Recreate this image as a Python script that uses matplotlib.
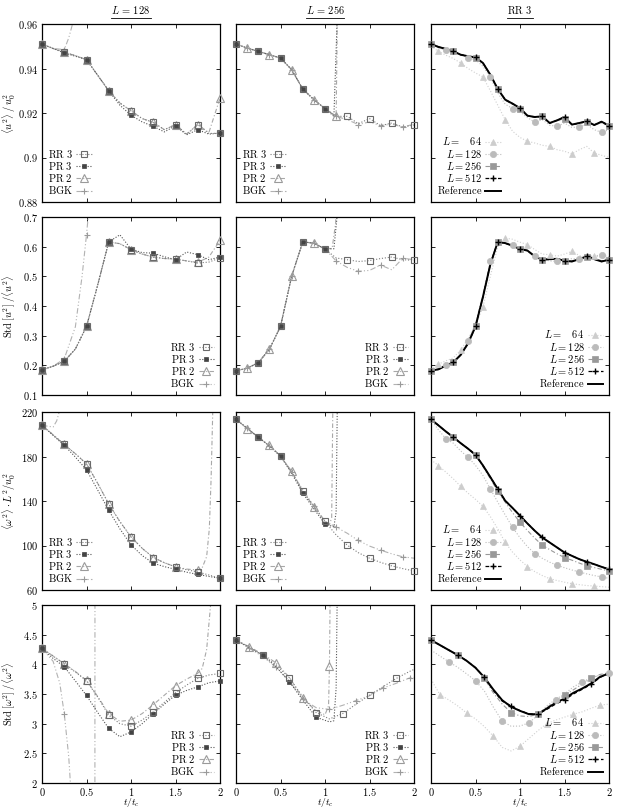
import numpy as np
import matplotlib
matplotlib.use('Agg')
import matplotlib.pyplot as plt
from matplotlib.lines import Line2D
from matplotlib.ticker import FuncFormatter

plt.rcParams['mathtext.fontset'] = 'cm'
plt.rcParams['font.family'] = ['DejaVu Serif']

# ---------------------------------------------------------------- data
col_titles = [r'$L\,=\,128$', r'$L\,=\,256$', r'$\mathrm{RR\ 3}$']
row_ylabels = [r'$\langle u^2\rangle\,/\,u_0^2$',
               r'$\mathrm{Std}\,[u^2]\;/\langle u^2\rangle$',
               r'$\langle\omega^2\rangle\cdot L^2/u_0^2$',
               r'$\mathrm{Std}\,[\omega^2]\;/\langle\omega^2\rangle$']
x_label = r'$t/t_c$'
x_ticks = [0, 0.5, 1, 1.5, 2]
y_ticks = [[0.88, 0.9, 0.92, 0.94, 0.96],
           [0.1, 0.2, 0.3, 0.4, 0.5, 0.6, 0.7],
           [60, 100, 140, 180, 220],
           [2, 2.5, 3, 3.5, 4, 4.5, 5]]
scheme_names = ['RR 3', 'PR 3', 'PR 2', 'BGK']
scheme_labels = [r'$\mathrm{RR\ 3}$', r'$\mathrm{PR\ 3}$', r'$\mathrm{PR\ 2}$', r'$\mathrm{BGK}$']
res_names = ['L64', 'L128', 'L256', 'L512', 'Reference']
res_labels = [r'$L =\ \ \ 64$', r'$L = 128$', r'$L = 256$', r'$L = 512$', r'$\mathrm{Reference}$']

# time grids
t8 = [0, 0.125, 0.25, 0.375, 0.5, 0.625, 0.75, 0.875, 1.0, 1.125, 1.25,
      1.375, 1.5, 1.625, 1.75, 1.875, 2.0]
t15 = [0, 0.15, 0.3, 0.45, 0.6, 0.75, 0.9, 1.05, 1.2, 1.35, 1.5, 1.65, 1.8, 1.95, 2.0]
t12 = list(np.linspace(0, 2, 25))
t10 = list(np.linspace(0, 2, 21))

# ---- column 1 : L = 128
u2_rr3_128 = [0.951, 0.949, 0.9473, 0.9458, 0.944, 0.937, 0.930, 0.9245, 0.921, 0.9175, 0.9158,
              0.9125, 0.9148, 0.9105, 0.9148, 0.9108, 0.9109]
u2_pr3_128 = [0.951, 0.949, 0.947, 0.9455, 0.944, 0.937, 0.930, 0.9235, 0.919, 0.916, 0.914,
              0.9115, 0.9143, 0.9102, 0.9125, 0.9105, 0.911]
u2_pr2_128 = [0.951, 0.949, 0.9473, 0.9458, 0.944, 0.937, 0.930, 0.9245, 0.921, 0.9175, 0.9158,
              0.9125, 0.9148, 0.9105, 0.9148, 0.9112, 0.9267]
t_u2_bgk_128 = [0, 0.125, 0.25, 0.3, 0.35, 0.4]
u2_bgk_128 = [0.951, 0.949, 0.9485, 0.9537, 0.961, 0.98]

s_rr3_128 = [0.185, 0.197, 0.2135, 0.255, 0.331, 0.47, 0.616, 0.61, 0.590, 0.575, 0.565,
             0.56, 0.558, 0.552, 0.545, 0.548, 0.562]
s_pr3_128 = [0.185, 0.197, 0.2135, 0.255, 0.331, 0.47, 0.616, 0.640, 0.592, 0.58, 0.578,
             0.566, 0.556, 0.582, 0.573, 0.556, 0.565]
s_pr2_128 = [0.185, 0.197, 0.2135, 0.255, 0.331, 0.47, 0.616, 0.61, 0.590, 0.575, 0.565,
             0.56, 0.558, 0.552, 0.547, 0.565, 0.621]
t_s_bgk_128 = [0, 0.125, 0.25, 0.375, 0.45, 0.5, 0.55, 0.6]
s_bgk_128 = [0.185, 0.197, 0.222, 0.33, 0.5, 0.64, 0.8, 0.95]

w_rr3_128 = [208, 199.5, 190.8, 182.5, 173.4, 156, 137.3, 121.5, 107.8, 97.5, 89.2,
             84.5, 80.8, 78.2, 76.2, 73.5, 70.5]
w_pr3_128 = [208, 199, 190, 179.5, 168, 150, 131.6, 115, 100.6, 91, 84.1,
             81, 78.6, 76, 74, 72.2, 70.5]
t_w_pr2_128 = t8[:15] + [1.8, 1.85, 1.88, 1.9, 1.92, 1.95]
w_pr2_128 = [208, 199.5, 190.8, 182.5, 173.4, 156, 137.3, 121.5, 107.8, 97.5, 89.2,
             84.5, 80.8, 78.8, 78.0, 80, 90, 115, 160, 225, 300]
t_w_bgk_128 = [0, 0.125, 0.165, 0.2, 0.25]
w_bgk_128 = [208, 206.5, 212, 222, 250]

sw_rr3_128 = [4.268, 4.14, 4.004, 3.87, 3.723, 3.45, 3.143, 3.0, 2.957, 3.06, 3.199,
              3.36, 3.52, 3.65, 3.762, 3.82, 3.846]
sw_pr3_128 = [4.268, 4.1, 3.96, 3.72, 3.475, 3.19, 2.92, 2.78, 2.86, 3.0, 3.17,
              3.33, 3.48, 3.56, 3.62, 3.69, 3.72]
t_sw_pr2_128 = t8[:15] + [1.8, 1.85, 1.9, 1.95]
sw_pr2_128 = [4.268, 4.14, 4.01, 3.88, 3.73, 3.46, 3.17, 3.04, 3.06, 3.17, 3.32,
              3.48, 3.64, 3.75, 3.85, 3.93, 4.25, 5.1, 7.0]
t_sw_bgk_128 = [0, 0.125, 0.2, 0.25, 0.3, 0.34, 0.45, 0.59, 0.6, 0.7]
sw_bgk_128 = [4.268, 4.05, 3.68, 3.17, 2.45, 1.5, -20, -20, 30, 30]

# ---- column 2 : L = 256
u2_rr3_256 = [0.951, 0.9492, 0.9477, 0.9462, 0.9447, 0.9395, 0.9308, 0.926, 0.922, 0.9185, 0.9185,
              0.9152, 0.9175, 0.9143, 0.9155, 0.9137, 0.9146]
t_u2_pr3_256 = t8[:9] + [1.1, 1.135, 1.16]
u2_pr3_256 = [0.951, 0.9492, 0.9477, 0.9462, 0.9447, 0.9395, 0.9308, 0.926, 0.922, 0.9185, 0.96, 1.1]
t_u2_pr2_256 = t8[:9] + [1.125, 1.135, 1.15]
u2_pr2_256 = [0.951, 0.9492, 0.9477, 0.9462, 0.9447, 0.9395, 0.9308, 0.926, 0.922, 0.9185, 0.95, 1.1]
u2_bgk_256 = [0.951, 0.9492, 0.9477, 0.9462, 0.9447, 0.9395, 0.9308, 0.926, 0.922, 0.9185, 0.917,
              0.9148, 0.916, 0.9143, 0.915, 0.9137, 0.915]

s_rr3_256 = [0.182, 0.19, 0.209, 0.254, 0.331, 0.5, 0.616, 0.612, 0.592, 0.562, 0.556,
             0.55, 0.553, 0.56, 0.565, 0.556, 0.554]
t_s_pr3_256 = t8[:9] + [1.1, 1.135, 1.16]
s_pr3_256 = [0.182, 0.19, 0.209, 0.254, 0.331, 0.5, 0.616, 0.612, 0.592, 0.593, 0.7, 1.0]
t_s_pr2_256 = t8[:9] + [1.08, 1.12, 1.14]
s_pr2_256 = [0.182, 0.19, 0.209, 0.254, 0.331, 0.5, 0.616, 0.612, 0.592, 0.594, 0.68, 1.0]
s_bgk_256 = [0.182, 0.19, 0.209, 0.254, 0.331, 0.5, 0.616, 0.612, 0.592, 0.552, 0.53,
             0.517, 0.52, 0.538, 0.522, 0.561, 0.556]

w_rr3_256 = [213.4, 205.5, 197.4, 189.5, 180.3, 166, 148.7, 135, 121.6, 109.5, 100.3,
             93.5, 88.6, 84.8, 81.7, 79.2, 77.1]
t_w_pr3_256 = t8[:9] + [1.1, 1.125, 1.14]
w_pr3_256 = [213.4, 205.5, 197.4, 189.5, 180.3, 165, 147, 133, 119.2, 116.8, 130, 240]
t_w_pr2_256 = t8[:9] + [1.05, 1.075, 1.09]
w_pr2_256 = [213.4, 205, 197.4, 190, 180.3, 166.8, 148.7, 134.9, 121.6, 118.5, 125, 240]
w_bgk_256 = [213.4, 205.5, 197.4, 189.5, 181.5, 166, 150, 135.5, 122, 116.5, 111,
             104.5, 99.5, 95.8, 92.5, 89.8, 88.6]

sw_rr3_256 = [4.409, 4.29, 4.155, 3.99, 3.773, 3.45, 3.188, 3.08, 3.171, 3.33, 3.48,
              3.62, 3.762, 3.88, 3.914]
t_sw_pr3_256 = [0, 0.15, 0.3, 0.45, 0.6, 0.75, 0.9, 1.05, 1.1, 1.125, 1.14]
sw_pr3_256 = [4.409, 4.28, 4.155, 3.96, 3.706, 3.4, 3.109, 3.03, 3.05, 3.6, 5.5]
t_sw_pr2_256 = [0, 0.15, 0.3, 0.45, 0.6, 0.75, 0.9, 1.0, 1.04, 1.05, 1.06]
sw_pr2_256 = [4.409, 4.296, 4.17, 4.026, 3.78, 3.425, 3.22, 3.15, 3.3, 3.97, 5.5]
sw_bgk_256 = [4.409, 4.27, 4.13, 3.95, 3.72, 3.41, 3.27, 3.24, 3.31, 3.39, 3.47,
              3.6, 3.68, 3.77, 3.78]

# ---- column 3 : RR 3, several resolutions
u2_ref = [0.9510, 0.9497, 0.9488, 0.9477, 0.9462, 0.9455, 0.9450, 0.9425, 0.9372, 0.9308, 0.9260,
          0.9242, 0.9222, 0.9188, 0.9182, 0.9185, 0.9155, 0.9167, 0.9182, 0.9148, 0.9155,
          0.9163, 0.9146, 0.9161, 0.9143]
u2_l512 = [0.9510, 0.9497, 0.9488, 0.9477, 0.9462, 0.9455, 0.9450, 0.9425, 0.9372, 0.9308, 0.9260,
           0.9242, 0.9222, 0.9188, 0.9182, 0.9185, 0.9155, 0.9167, 0.9182, 0.9148, 0.9155,
           0.9163, 0.9146, 0.9161, 0.9143]
u2_l256 = [0.9510, 0.9497, 0.9487, 0.9477, 0.9462, 0.9454, 0.9448, 0.9423, 0.9370, 0.9308, 0.9258,
           0.9238, 0.9218, 0.9186, 0.9182, 0.9185, 0.9153, 0.9165, 0.9175, 0.9148, 0.9153,
           0.9158, 0.9145, 0.9155, 0.9143]
u2_l128 = [0.951, 0.9495, 0.9482, 0.9475, 0.9465, 0.9447, 0.944, 0.941, 0.936, 0.929, 0.924,
           0.922, 0.9205, 0.918, 0.9158, 0.917, 0.9145, 0.914, 0.9155, 0.9135, 0.9137,
           0.915, 0.9125, 0.9113, 0.9125]
u2_l64 = [0.950, 0.9477, 0.946, 0.9445, 0.9425, 0.940, 0.938, 0.9362, 0.930, 0.9235, 0.917,
          0.9118, 0.909, 0.9073, 0.9065, 0.9055, 0.905, 0.9035, 0.9028, 0.9016, 0.9035,
          0.905, 0.902, 0.901, 0.900]

s_ref = [0.182, 0.1865, 0.199, 0.210, 0.235, 0.274, 0.331, 0.43, 0.54, 0.616, 0.612,
         0.603, 0.592, 0.587, 0.567, 0.556, 0.558, 0.559, 0.5525, 0.550, 0.558,
         0.567, 0.558, 0.550, 0.556]
s_l512 = [0.182, 0.1865, 0.199, 0.210, 0.235, 0.274, 0.331, 0.43, 0.54, 0.616, 0.612,
          0.603, 0.592, 0.587, 0.567, 0.556, 0.558, 0.559, 0.5525, 0.550, 0.558,
          0.567, 0.558, 0.550, 0.556]
s_l256 = [0.182, 0.187, 0.199, 0.210, 0.236, 0.276, 0.331, 0.435, 0.545, 0.616, 0.612,
          0.602, 0.592, 0.585, 0.566, 0.556, 0.556, 0.558, 0.553, 0.552, 0.56,
          0.566, 0.56, 0.553, 0.556]
s_l128 = [0.182, 0.19, 0.202, 0.213, 0.24, 0.282, 0.34, 0.44, 0.55, 0.612, 0.615,
          0.607, 0.595, 0.585, 0.568, 0.558, 0.552, 0.55, 0.552, 0.56, 0.558,
          0.56, 0.568, 0.573, 0.565]
s_l64 = [0.185, 0.204, 0.215, 0.225, 0.252, 0.29, 0.335, 0.396, 0.5, 0.6, 0.629,
         0.625, 0.615, 0.607, 0.59, 0.575, 0.573, 0.568, 0.575, 0.584, 0.57,
         0.565, 0.57, 0.562, 0.558]

w_ref = [213.4, 208, 202.5, 197.4, 192, 187, 181.5, 172, 161.5, 150.8, 140.3,
         133.7, 126.8, 119.8, 113.2, 107.2, 102.7, 98.2, 93.7, 90.7, 87.7,
         85.3, 83.2, 80.8, 78.6]
w_l512 = [213.4, 208, 202.5, 197.4, 192, 187, 181.5, 172, 161.5, 150.8, 140.3,
          133.7, 126.8, 119.8, 113.2, 107.2, 102.7, 98.2, 93.7, 90.7, 87.7,
          85.3, 83.2, 80.8, 78.6]
w_l256 = [213.4, 208, 202.5, 197.4, 192, 187, 181.5, 171, 160, 148.7, 139,
          129.5, 120.8, 113.5, 106.5, 100.3, 96.3, 92.5, 89.2, 86.8, 84.2,
          81.7, 80.2, 78.6, 77.1]
w_l128 = [213.4, 204, 196, 192, 185, 179.4, 172, 163, 150.8, 139, 127.5,
          116.2, 107, 99, 92.8, 88.5, 85, 82.3, 80, 78, 76.2,
          74.5, 73, 71.7, 70.5]
w_l64 = [177, 171.9, 166, 160, 153.2, 147, 141.5, 135.2, 126, 115, 102.7,
         94, 87, 81.1, 76.5, 73, 70.2, 68.5, 67, 65.7, 64.8,
         64, 63.6, 63, 62.5]

sw_ref = [4.409, 4.325, 4.24, 4.156, 4.06, 3.942, 3.779, 3.576, 3.396, 3.284, 3.216,
          3.16, 3.16, 3.255, 3.351, 3.424, 3.52, 3.593, 3.678, 3.79, 3.846]
sw_l512 = [4.409, 4.325, 4.24, 4.156, 4.06, 3.942, 3.779, 3.56, 3.38, 3.30, 3.22,
           3.165, 3.16, 3.24, 3.33, 3.40, 3.50, 3.58, 3.665, 3.78, 3.846]
sw_l256 = [4.409, 4.32, 4.24, 4.156, 4.06, 3.95, 3.762, 3.52, 3.33, 3.188, 3.13,
           3.12, 3.16, 3.27, 3.38, 3.48, 3.57, 3.67, 3.762, 3.83, 3.858]
sw_l128 = [4.24, 4.14, 4.043, 3.95, 3.84, 3.723, 3.55, 3.28, 3.042, 2.957, 2.96,
           3.014, 3.14, 3.3, 3.407, 3.5, 3.62, 3.706, 3.77, 3.82, 3.846]
sw_l64 = [3.75, 3.49, 3.4, 3.3, 3.18, 3.08, 2.95, 2.789, 2.6, 2.54, 2.62,
          2.75, 2.88, 3.0, 3.06, 3.11, 3.16, 3.2, 3.26, 3.312, 3.33]

# ---------------------------------------------------------------- styles
STY = {
    'RR 3': dict(color='#7c7c7c', ls=':', lw=0.8, marker='s', ms=5, mfc='none', mec='#6a6a6a', mew=0.8),
    'PR 3': dict(color='#555555', ls=(0, (1, 1.5)), lw=0.8, marker='s', ms=2.8, mfc='#444444', mec='#444444', mew=0.5),
    'PR 2': dict(color='#a8a8a8', ls=(0, (4, 2, 1, 2)), lw=0.8, marker='^', ms=5.5, mfc='none', mec='#9a9a9a', mew=0.8),
    'BGK': dict(color='#b2b2b2', ls=(0, (5, 2, 1, 2, 1, 2)), lw=0.8, marker='+', ms=4, mfc='none', mec='#9a9a9a', mew=0.8),
    'L64': dict(color='#d0d0d0', ls=':', lw=0.8, marker='^', ms=4.5, mfc='#cdcdcd', mec='#cdcdcd', mew=0.5),
    'L128': dict(color='#bdbdbd', ls=':', lw=0.8, marker='o', ms=4.5, mfc='#bbbbbb', mec='#bbbbbb', mew=0.5),
    'L256': dict(color='#999999', ls=(0, (4, 2, 1, 2)), lw=0.8, marker='s', ms=4, mfc='#999999', mec='#999999', mew=0.5),
    'L512': dict(color='black', ls=(0, (3, 2)), lw=0.9, marker='+', ms=5, mfc='none', mec='black', mew=1.0),
    'Reference': dict(color='black', ls='-', lw=1.4, marker=None),
}

W, H = 617, 810
fig = plt.figure(figsize=(W / 100, H / 100), dpi=100)
col_left = [42, 236, 431]
row_top = [24, 217, 412, 605]
AW = AH = 178
axes = [[fig.add_axes([col_left[c] / W, 1 - (row_top[r] + AH) / H, AW / W, AH / H])
         for c in range(3)] for r in range(4)]

fmt = FuncFormatter(lambda v, p: '$%g$' % round(v, 4))


def marks(t, step, off):
    out = []
    for i, v in enumerate(t):
        q = (v - off) / step
        if v >= off - 1e-9 and abs(q - round(q)) < 1e-6:
            out.append(i)
    return out


def draw(ax, t, y, key, step=0.25, off=0.0):
    st = dict(STY[key])
    mk = {k: st.pop(k) for k in ['marker', 'ms', 'mfc', 'mec', 'mew'] if k in st}
    ax.plot(t, y, color=st['color'], ls=st['ls'], lw=st['lw'], zorder=2)
    if mk.get('marker'):
        lo, hi = ax.get_ylim()
        idx = [i for i in marks(t, step, off) if lo <= y[i] <= hi]
        ax.plot([t[i] for i in idx], [y[i] for i in idx], ls='none', marker=mk['marker'],
                ms=mk['ms'], mfc=mk['mfc'], mec=mk['mec'], mew=mk['mew'], clip_on=False, zorder=3)


def proxy(key):
    st = STY[key]
    return Line2D([], [], color=st['color'], ls=st['ls'], lw=st['lw'], marker=st.get('marker'),
                  ms=st.get('ms', 0), mfc=st.get('mfc'), mec=st.get('mec'), mew=st.get('mew', 0.5))


for r in range(4):
    for c in range(3):
        ax = axes[r][c]
        ax.set_xlim(0, 2)
        ax.set_ylim(y_ticks[r][0], y_ticks[r][-1])
        ax.set_xticks(x_ticks)
        ax.set_yticks(y_ticks[r])
        ax.tick_params(direction='in', top=True, right=True, length=3, width=0.6,
                       labelsize=7.5, pad=3)
        ax.tick_params(axis='x', pad=1.8)
        ax.xaxis.set_major_formatter(fmt)
        ax.yaxis.set_major_formatter(fmt)
        if c > 0:
            ax.set_yticklabels([])
        if r < 3:
            ax.set_xticklabels([])
        for s in ax.spines.values():
            s.set_linewidth(0.9)

# column 1
a = axes[0][0]
draw(a, t8, u2_pr2_128, 'PR 2'); draw(a, t_u2_bgk_128, u2_bgk_128, 'BGK')
draw(a, t8, u2_pr3_128, 'PR 3'); draw(a, t8, u2_rr3_128, 'RR 3')
a = axes[1][0]
draw(a, t8, s_pr2_128, 'PR 2'); draw(a, t_s_bgk_128, s_bgk_128, 'BGK')
draw(a, t8, s_pr3_128, 'PR 3'); draw(a, t8, s_rr3_128, 'RR 3')
a = axes[2][0]
draw(a, t_w_pr2_128, w_pr2_128, 'PR 2'); draw(a, t_w_bgk_128, w_bgk_128, 'BGK')
draw(a, t8, w_pr3_128, 'PR 3'); draw(a, t8, w_rr3_128, 'RR 3')
a = axes[3][0]
draw(a, t_sw_pr2_128, sw_pr2_128, 'PR 2'); draw(a, t_sw_bgk_128, sw_bgk_128, 'BGK')
draw(a, t8, sw_pr3_128, 'PR 3'); draw(a, t8, sw_rr3_128, 'RR 3')

# column 2
a = axes[0][1]
draw(a, t_u2_pr2_256, u2_pr2_256, 'PR 2', off=0.125); draw(a, t8, u2_bgk_256, 'BGK', off=0.125)
draw(a, t_u2_pr3_256, u2_pr3_256, 'PR 3'); draw(a, t8, u2_rr3_256, 'RR 3')
a = axes[1][1]
draw(a, t_s_pr2_256, s_pr2_256, 'PR 2', off=0.125); draw(a, t8, s_bgk_256, 'BGK', off=0.125)
draw(a, t_s_pr3_256, s_pr3_256, 'PR 3'); draw(a, t8, s_rr3_256, 'RR 3')
a = axes[2][1]
draw(a, t_w_pr2_256, w_pr2_256, 'PR 2', off=0.125); draw(a, t8, w_bgk_256, 'BGK', off=0.125)
draw(a, t_w_pr3_256, w_pr3_256, 'PR 3'); draw(a, t8, w_rr3_256, 'RR 3')
a = axes[3][1]
draw(a, t_sw_pr2_256, sw_pr2_256, 'PR 2', 0.3, 0.15); draw(a, t15, sw_bgk_256, 'BGK', 0.3, 0.15)
draw(a, t_sw_pr3_256, sw_pr3_256, 'PR 3', 0.3, 0.0); draw(a, t15, sw_rr3_256, 'RR 3', 0.3, 0.0)

# column 3
col3 = [(t12, [u2_l64, u2_l128, u2_l256, u2_l512, u2_ref], 0.25),
        (t12, [s_l64, s_l128, s_l256, s_l512, s_ref], 0.25),
        (t12, [w_l64, w_l128, w_l256, w_l512, w_ref], 0.25),
        (t10, [sw_l64, sw_l128, sw_l256, sw_l512, sw_ref], 0.3)]
for r, (tt, series, step) in enumerate(col3):
    a = axes[r][2]
    offs = [step / 3, 2 * step / 3, 0, 0, 0]
    for key, y, off in zip(res_names, series, offs):
        draw(a, tt, y, key, step, off)

# legends
leg_loc = ['lower left', 'lower right', 'lower left', 'lower right']
for r in range(4):
    for c in range(3):
        if c < 2:
            hs = [proxy(k) for k in scheme_names]
            ls = scheme_labels
        else:
            hs = [proxy(k) for k in res_names]
            ls = res_labels
        axes[r][c].legend(hs, ls, loc=leg_loc[r], frameon=False, markerfirst=False, fontsize=7.5,
                          handlelength=1.5, handletextpad=0.3, labelspacing=0.02,
                          borderaxespad=0.35, borderpad=0.2, numpoints=1)

# labels
for r in range(4):
    fig.text(9 / W, 1 - (row_top[r] + AH / 2) / H, row_ylabels[r], rotation=90,
             ha='center', va='center', fontsize=7.5)
for c in range(3):
    fig.text((col_left[c] + AW / 2) / W, 1 - 796 / H, x_label, ha='center', va='top', fontsize=7)
tt_objs = []
for c in range(3):
    tt_objs.append(fig.text((col_left[c] + AW / 2) / W, 1 - 10 / H, col_titles[c],
                            ha='center', va='center', fontsize=7.5))

fig.canvas.draw()
rend = fig.canvas.get_renderer()
for t in tt_objs:
    bb = t.get_window_extent(rend)
    yy = (bb.y0 - 1.5) / H
    fig.add_artist(Line2D([bb.x0 / W, bb.x1 / W], [yy, yy], transform=fig.transFigure,
                          color='black', lw=0.6))

fig.savefig('out.png', dpi=100)
